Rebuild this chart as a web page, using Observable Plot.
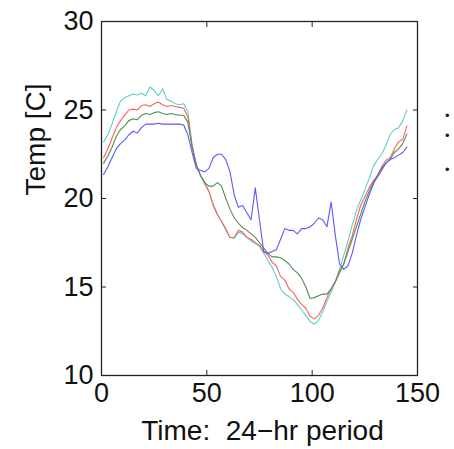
<!DOCTYPE html>
<html>
<head>
<meta charset="utf-8">
<script src="https://cdn.jsdelivr.net/npm/d3@7"></script>
<script src="https://cdn.jsdelivr.net/npm/@observablehq/plot@0.6"></script>
<style>
  html, body { margin: 0; padding: 0; background: #fff; }
  #wrap { position: relative; width: 454px; height: 449px; overflow: hidden; }
  .frag { position: absolute; font: 13px "Liberation Sans", Arial, sans-serif; color: #1a1a40; line-height: 1; }
</style>
</head>
<body>
<div id="wrap"></div>
<script>
const time = [1,3,5,7,9,11,13,15,17,19,21,23,25,27,29,31,33,35,37,39,41,43,45,47,49,51,53,55,57,59,61,63,65,67,69,71,73,75,77,79,81,83,85,87,89,91,93,95,97,99,101,103,105,107,109,111,113,115,117,119,121,123,125,127,129,131,133,135,137,139,141,143,145];

const cyanSeries = [23.2,23.6,24.2,24.9,25.5,25.7,25.8,25.9,25.85,25.95,25.8,26.3,26.1,25.8,26.2,25.6,25.5,25.35,25.3,25.35,24.9,23.0,21.9,21.3,20.8,20.4,19.7,19.1,18.7,18.2,17.8,17.75,18.1,18.0,17.8,17.6,17.45,17.3,16.9,16.5,16.1,15.6,14.9,14.6,14.45,14.3,14.0,13.7,13.4,13.05,12.9,13.1,13.6,14.2,14.7,15.3,16.0,16.8,17.6,18.5,19.3,19.9,20.5,21.1,21.8,22.2,22.5,23.0,23.6,23.9,24.0,24.4,25.0];

const redSeries = [22.3,22.8,23.4,24.0,24.4,24.7,25.0,25.05,25.0,25.25,25.3,25.2,25.35,25.45,25.3,25.2,25.25,25.2,25.15,25.1,24.6,23.0,21.9,21.3,20.9,20.4,19.6,19.1,18.7,18.3,17.8,17.8,18.2,18.1,17.8,17.7,17.5,17.35,17.0,16.8,16.4,16.2,15.6,15.4,14.9,14.7,14.3,14.0,13.8,13.35,13.2,13.4,13.8,14.4,14.9,15.3,15.9,16.3,17.2,17.9,18.8,19.6,20.1,20.6,21.0,21.3,21.8,22.15,22.3,22.8,23.2,23.35,24.1];

const greenSeries = [22.0,22.4,22.9,23.5,23.9,24.1,24.4,24.5,24.45,24.7,24.8,24.75,24.85,24.9,24.8,24.75,24.8,24.75,24.7,24.7,24.3,22.9,21.9,21.3,20.9,20.7,20.7,20.9,20.7,20.0,19.4,18.9,18.6,18.35,18.2,18.0,17.8,17.5,17.2,16.9,16.7,16.7,16.65,16.5,16.3,16.0,15.8,15.5,15.0,14.35,14.4,14.5,14.6,14.6,14.9,15.3,15.8,16.3,17.0,17.7,18.4,19.1,19.8,20.4,20.9,21.2,21.6,22.0,22.2,22.6,22.8,23.1,23.65];

const blueSeries = [21.35,21.8,22.3,22.8,23.1,23.3,23.6,23.8,23.7,24.0,24.2,24.2,24.2,24.25,24.2,24.2,24.2,24.2,24.2,24.15,23.6,22.6,21.7,21.6,21.5,21.7,22.3,22.5,22.5,22.2,21.5,20.2,19.5,19.6,19.2,18.8,20.6,18.8,17.0,16.9,17.0,17.1,17.7,18.3,18.2,18.2,18.0,18.3,18.3,18.4,18.6,18.9,18.8,18.4,19.8,17.9,16.3,16.0,16.2,16.9,17.9,18.8,19.5,20.2,20.8,21.3,21.7,22.0,22.2,22.3,22.45,22.6,22.9];

const xTicks = [0, 50, 100, 150];
const yTicks = [10, 15, 20, 25, 30];
const xLabel = "Time:\u00a0 24\u2212hr period";
const yLabel = "Temp [C]";

const series = [
  {values: cyanSeries, color: "#5cd0c8"},
  {values: redSeries, color: "#ff6060"},
  {values: greenSeries, color: "#4f8f4f"},
  {values: blueSeries, color: "#5a5aff"}
];

const font = "'Liberation Sans', Arial, Helvetica, sans-serif";
const noText = () => "";

const lineMarks = series.map(s =>
  Plot.line(time.map((t, i) => ({t, v: s.values[i]})), {x: "t", y: "v", stroke: s.color, strokeWidth: 1.1})
);

const chart = Plot.plot({
  width: 454,
  height: 449,
  marginLeft: 101,
  marginRight: 37,
  marginTop: 21,
  marginBottom: 74,
  style: {fontFamily: font, fontSize: "27px", color: "#111", background: "#fff"},
  x: {domain: [0, 150]},
  y: {domain: [10, 30]},
  marks: [
    ...lineMarks,
    Plot.frame({stroke: "#222", strokeWidth: 1.3}),
    Plot.axisX(xTicks, {anchor: "bottom", tickSize: -5, tickFormat: noText, label: null, stroke: "#222"}),
    Plot.axisX(xTicks, {anchor: "top", tickSize: -5, tickFormat: noText, label: null, stroke: "#222"}),
    Plot.axisY(yTicks, {anchor: "left", tickSize: -5, tickFormat: noText, label: null, stroke: "#222"}),
    Plot.axisY(yTicks, {anchor: "right", tickSize: -5, tickFormat: noText, label: null, stroke: "#222"}),
    Plot.axisX(xTicks, {anchor: "bottom", tickSize: 0, tickPadding: 7, label: null, fill: "#111"}),
    Plot.axisY(yTicks, {anchor: "left", tickSize: 0, tickPadding: 8, label: null, fill: "#111"}),
    Plot.text([xLabel], {frameAnchor: "bottom", dy: 45, dx: 3, text: d => d, lineAnchor: "top", fill: "#111", fontSize: 28}),
    Plot.text([yLabel], {frameAnchor: "left", dx: -65, dy: -3, rotate: -90, text: d => d, fill: "#111", fontSize: 28})
  ]
});

const wrap = document.getElementById("wrap");
wrap.appendChild(chart);

// partially visible (clipped) legend fragments at the right edge
[[445, 109], [445, 129], [445, 163]].forEach(([l, t]) => {
  const s = document.createElement("span");
  s.className = "frag";
  s.style.left = l + "px";
  s.style.top = t + "px";
  s.textContent = "\u2022";
  wrap.appendChild(s);
});
</script>
</body>
</html>
